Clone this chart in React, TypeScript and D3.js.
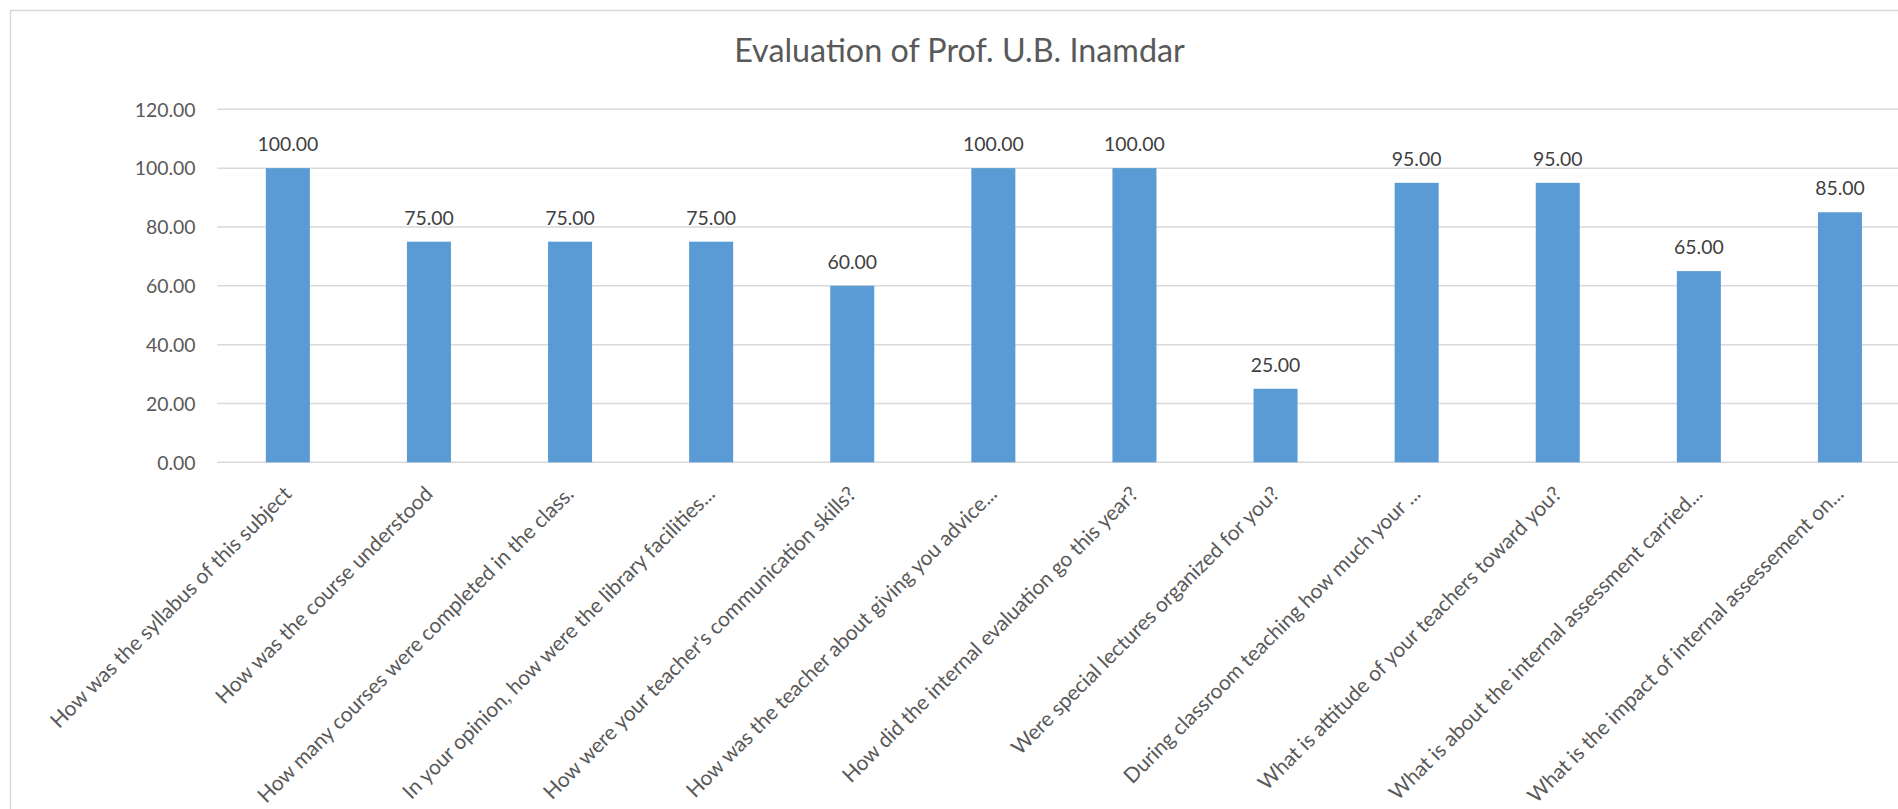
import React from "react";
import * as d3 from "d3";

const title = "Evaluation of Prof. U.B. Inamdar";

const categories = [
  "How was the syllabus of this subject",
  "How was the course understood",
  "How many courses were completed in the class.",
  "In your opinion, how were the library facilities...",
  "How were your teacher's communication skills?",
  "How was the teacher about giving you advice...",
  "How did the internal evaluation go this year?",
  "Were special lectures organized for you?",
  "During classroom teaching how much your ...",
  "What is attitude of your teachers toward you?",
  "What is about the internal assessment carried...",
  "What is the impact of internal assessement on...",
];

const values = [100, 75, 75, 75, 60, 100, 100, 25, 95, 95, 65, 85];

const yTicks = [0, 20, 40, 60, 80, 100, 120];

const W = 1898;
const H = 809;
const FONT = "Lato, 'Open Sans', sans-serif";

export default function App() {
  const plotLeft = 217.3;
  const step = 141.1;
  const plotRight = plotLeft + step * categories.length;
  const yTop = 109.3;
  const yBottom = 462.3;

  const x = d3
    .scaleBand<string>()
    .domain(categories)
    .range([plotLeft, plotRight])
    .paddingInner(0.688)
    .paddingOuter(0.344);

  const y = d3.scaleLinear().domain([0, 120]).range([yBottom, yTop]);

  return (
    <svg
      width={W}
      height={H}
      style={{ position: "absolute", left: 0, top: 0, background: "#fff" }}
    >
      <rect x={0} y={0} width={W} height={H} fill="#fff" />
      <rect
        x={10.5}
        y={10.5}
        width={W + 20}
        height={H + 20}
        fill="none"
        stroke="#d9d9d9"
        strokeWidth={1.5}
      />
      <text
        x={959.5}
        y={62.3}
        textAnchor="middle"
        fontFamily={FONT}
        fontSize={32.3}
        fill="#595959"
      >
        {title}
      </text>
      {yTicks.map((t) => (
        <g key={t}>
          <line
            x1={plotLeft}
            x2={plotRight}
            y1={y(t)}
            y2={y(t)}
            stroke="#d9d9d9"
            strokeWidth={1.5}
          />
          <text
            x={195.5}
            y={y(t) + 7.2}
            textAnchor="end"
            fontFamily={FONT}
            fontSize={19.4}
            fill="#595959"
          >
            {t.toFixed(2)}
          </text>
        </g>
      ))}
      {categories.map((c, i) => {
        const v = values[i];
        const bx = x(c) as number;
        const bw = x.bandwidth();
        const cx = bx + bw / 2;
        return (
          <g key={c}>
            <rect x={bx} y={y(v)} width={bw} height={y(0) - y(v)} fill="#5b9bd5" />
            <text
              x={cx}
              y={y(v) - 17}
              textAnchor="middle"
              fontFamily={FONT}
              fontSize={19.4}
              fill="#404040"
            >
              {v.toFixed(2)}
            </text>
            <text
              transform={`translate(${cx + 5},${yBottom + 33}) rotate(-45)`}
              textAnchor="end"
              fontFamily={FONT}
              fontSize={20.9}
              fill="#595959"
            >
              {c}
            </text>
          </g>
        );
      })}
    </svg>
  );
}
